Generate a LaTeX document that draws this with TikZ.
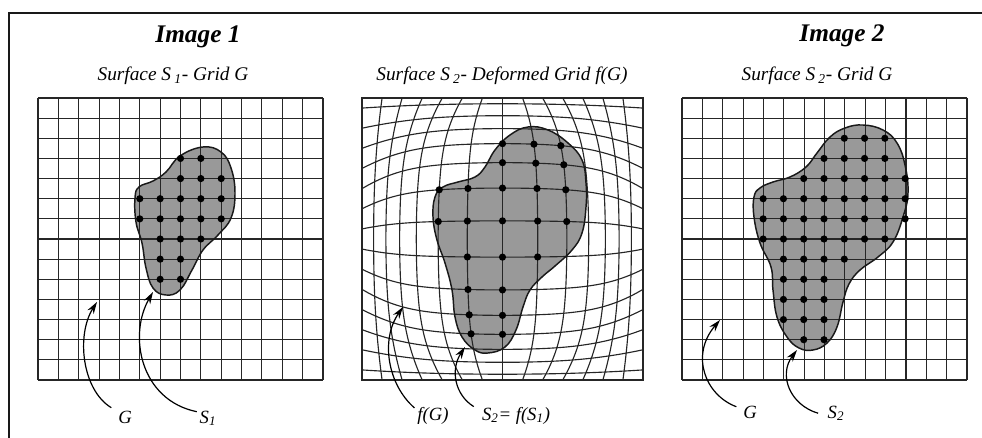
\documentclass[tikz,border=0pt]{standalone}
\usepackage{fontspec}
\setmainfont{Liberation Serif}
\usetikzlibrary{arrows.meta}

\begin{document}
\begin{tikzpicture}[
  x=0.75pt,y=-0.75pt,
  boxline/.style={line width=1.7pt,black!90},
  gridline/.style={line width=0.85pt,black!85},
  blob/.style={fill=black!40},
  blobline/.style={draw=black!90,line width=1.1pt},
  knot/.style={fill=black},
  pointer/.style={line width=0.9pt,-{Stealth[length=9pt,width=5.5pt]}},
  heading/.style={font=\fontsize{19}{22}\selectfont\bfseries\itshape,anchor=base},
  subtitle/.style={font=\fontsize{14.5}{17}\selectfont\itshape,anchor=base},
  lbl/.style={font=\fontsize{14}{16}\selectfont\itshape,inner sep=2pt,anchor=base},
  declare function={
    tw(\xx)=0.55*\xx+0.45*tanh(2.8*\xx)/tanh(2.8);
    wx(\xx,\yy)=\xx+(tw(\xx)-\xx)*(1-\yy*\yy);
    wy(\xx,\yy)=\yy+(tw(\yy)-\yy)*(1-\xx*\xx);
  }
]
  \useasboundingbox (0,0) rectangle (982,438);

  \def\blobA{plot[smooth cycle,tension=0.7] coordinates {(203,147) (221,152) (231,168) (235,193) (231,218) (218,235) (203,250) (192,270) (180,290) (166,295) (153,288) (146,268) (142,243) (136,222) (135,198) (139,187) (153,181) (166,172) (180,156)}}
  \def\blobB{plot[smooth cycle,tension=0.7] coordinates {(528,127) (548,130) (568,143) (582,160) (586,183) (586,207) (582,233) (572,250) (555,266) (542,277) (530,290) (523,307) (516,330) (505,347) (488,353) (475,350) (462,337) (455,317) (452,290) (445,263) (437,240) (433,217) (435,197) (443,187) (458,182) (475,177) (485,167) (495,150) (510,135)}}
  \def\blobC{plot[smooth cycle,tension=0.7] coordinates {(863,125) (883,130) (897,143) (905,165) (908,193) (903,217) (893,242) (878,257) (860,270) (849,284) (843,302) (837,327) (827,343) (813,350) (799,348) (787,337) (777,317) (773,290) (771,267) (760,243) (754,217) (754,197) (760,188) (773,182) (790,177) (806,167) (817,153) (830,137) (845,128)}}

  % outer frame
  \draw[boxline] (982,13) -- (9,13) -- (9,438);

  % titles
  \node[heading] (head1) at (198,43) {Image 1};
  \node[heading] (head2) at (842,42) {Image 2};
  \node[subtitle] (sub1) at (173,81) {Surface S\,\textsubscript{1}- Grid G};
  \node[subtitle] (sub2) at (502,81) {Surface S\,\textsubscript{2}- Deformed Grid f(G)};
  \node[subtitle] (sub3) at (817,81) {Surface S\,\textsubscript{2}- Grid G};

  % shaded surfaces
  \path[blob] \blobA;
  \path[blob] \blobB;
  \path[blob] \blobC;

  % regular grids G
  \foreach \x in {38,682}{
    \foreach \i in {0,...,14}{
      \draw[gridline] ({\x+\i*285/14},98) -- ++(0,282);
      \draw[gridline] (\x,{98+\i*282/14}) -- ++(285,0);
    }
  }

  % deformed grid f(G)
  \draw[gridline] (362,98) rectangle (643,380);
  \foreach \c in {-6,...,6}{
    \draw[gridline] plot[smooth,domain=-1:1,samples=31,variable=\t]
      ({502.5+140.5*wx(\c/7,\t)},{239+141*wy(\c/7,\t)});
  }
  \foreach \r in {-7,...,6}{
    \draw[gridline] plot[smooth,domain=-1:1,samples=31,variable=\t]
      ({502.5+140.5*wx(\t,(2*(\r)+1)/14)},{239+141*wy(\t,(2*(\r)+1)/14)});
  }

  \draw[blobline] \blobA;
  \draw[blobline] \blobB;
  \draw[blobline] \blobC;

  % grid points inside the surfaces
  \foreach \j/\ks in {3/{7,8},4/{7,8,9},5/{5,6,7,8,9},6/{5,6,7,8,9},7/{6,7,8},8/{6,7},9/{6,7}}{
    \foreach \k in \ks{
      \fill[knot] ({38+\k*285/14},{98+\j*282/14}) circle[radius=2.7pt];
    }
  }
  \foreach \r/\cs in {-4/{0,1,2},-3/{0,1,2},-2/{-2,-1,0,1,2},-1/{-2,-1,0,1,2},0/{-1,0,1},1/{-1,0},2/{-1,0},3/{-1,0}}{
    \foreach \c in \cs{
      \fill[knot] ({502.5+140.5*wx(\c/7,(2*(\r)+1)/14)},{239+141*wy(\c/7,(2*(\r)+1)/14)}) circle[radius=2.7pt];
    }
  }
  \foreach \j/\ks in {2/{8,9,10},3/{7,8,9,10},4/{6,7,8,9,10,11},5/{4,5,6,7,8,9,10,11},6/{4,5,6,7,8,9,10,11},7/{4,5,6,7,8,9,10},8/{5,6,7,8},9/{5,6,7},10/{5,6,7},11/{5,6,7},12/{6,7}}{
    \foreach \k in \ks{
      \fill[knot] ({682+\k*284/14},{98+\j*282/14}) circle[radius=2.7pt];
    }
  }

  % labels and pointers
  \node[lbl] (gA) at (125,423) {G};
  \node[lbl] (sA) at (208,423) {S\textsubscript{1}};
  \node[lbl] (gB) at (433,420) {f(G)};
  \node[lbl] (sB) at (516,420) {S\textsubscript{2}= f(S\textsubscript{1})};
  \node[lbl] (gC) at (750,418) {G};
  \node[lbl] (sC) at (836,418) {S\textsubscript{2}};

  \coordinate (gAtip) at (97,302);
  \coordinate (sAtip) at (153,292);
  \coordinate (gBtip) at (403,307);
  \coordinate (sBtip) at (465,347);
  \coordinate (gCtip) at (720,320);
  \coordinate (sCtip) at (797,350);

  \draw[pointer] ([xshift=-3pt]gA.north west) .. controls (82,390) and (76,335) .. (gAtip);
  \draw[pointer] ([yshift=-3pt]sA.north west) .. controls (140,400) and (128,335) .. (sAtip);
  \draw[pointer] ([yshift=-3pt]gB.north west) .. controls (388,385) and (380,340) .. (gBtip);
  \draw[pointer] ([xshift=-4pt,yshift=-2pt]sB.north west) .. controls (455,395) and (450,370) .. (sBtip);
  \draw[pointer] ([xshift=-3pt,yshift=-3pt]gC.north west) .. controls (705,395) and (690,355) .. (gCtip);
  \draw[pointer] ([xshift=-5pt]sC.west) .. controls (790,405) and (778,375) .. (sCtip);
\end{tikzpicture}
\end{document}
